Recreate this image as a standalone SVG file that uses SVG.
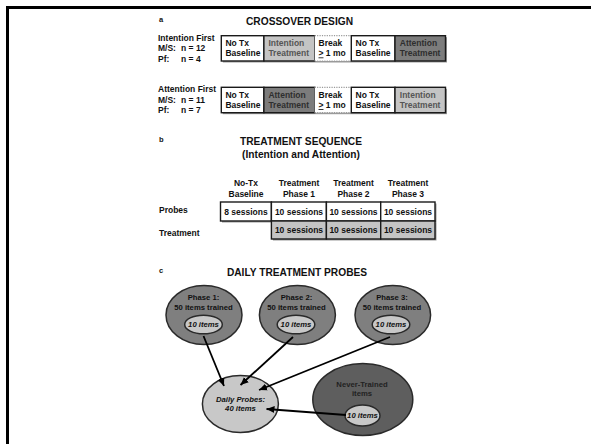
<svg xmlns="http://www.w3.org/2000/svg" width="591" height="444" viewBox="0 0 591 444">
  <style>
    text { font-family: "Liberation Sans", Arial, sans-serif; font-weight: bold; fill: #111; }
    .h { font-size: 10.2px; text-anchor: middle; }
    .tag { font-size: 7.5px; }
    .lbl { font-size: 8.5px; }
    .mid { text-anchor: middle; }
    .sm { font-size: 7.7px; text-anchor: middle; }
    .it { font-style: italic; }
    .box { stroke: #1a1a1a; stroke-width: 1.4; }
    .white { fill: #ffffff; }
    .light { fill: #c4c4c4; }
    .dark { fill: #7c7c7c; }
    .shadow { fill: #9a9a9a; }
    .dotted { fill: none; stroke: #9a9a9a; stroke-width: 1.2; stroke-dasharray: 1.2 1.2; }
    .ell { stroke: #2a2a2a; stroke-width: 1.5; }
    .phase { fill: #7f7f7f; }
    .inner { fill: #c8c8c8; }
    .never { fill: #5e5e5e; }
    .conn { stroke: #000; stroke-width: 1.8; fill: none; marker-end: url(#arrow); }
  </style>
  <defs>
    <marker id="arrow" markerUnits="userSpaceOnUse" markerWidth="9" markerHeight="8" refX="8" refY="4" orient="auto">
      <path d="M0,0.5 L8,4 L0,7.5 Z" fill="#000"/>
    </marker>
  </defs>

  <!-- page frame -->
  <path d="M7.5,444 V7.5 H591" fill="none" stroke="#000" stroke-width="3"/>

  <!-- a: crossover design -->
  <g id="crossover-title">
    <text class="tag" x="159" y="22">a</text>
    <text class="h" x="299.5" y="25">CROSSOVER DESIGN</text>
  </g>

  <g id="intention-first-label">
    <text class="lbl" x="158" y="40.5">Intention First</text>
    <text class="lbl" x="158" y="51">M/S:</text>
    <text class="lbl" x="181" y="51">n = 12</text>
    <text class="lbl" x="158" y="61.5">Pf:</text>
    <text class="lbl" x="181" y="61.5">n = 4</text>
  </g>

  <g id="intention-first-row">
    <rect class="shadow" x="222.8" y="37.2" width="224.2" height="25.3"/>
    <rect class="box white" x="221.3" y="35.7" width="42.6" height="25.3"/>
    <rect class="box light" x="263.9" y="35.7" width="50.8" height="25.3"/>
    <rect class="white" x="314.7" y="35.7" width="36.6" height="25.3"/>
    <path class="dotted" d="M314.7,35.7 H351.3 M314.7,61 H351.3"/>
    <rect class="box white" x="351.3" y="35.7" width="43.7" height="25.3"/>
    <rect class="box dark" x="395" y="35.7" width="50.5" height="25.3"/>
    <text class="lbl" x="225.4" y="46.4">No Tx</text>
    <text class="lbl" x="225.4" y="56.4">Baseline</text>
    <text class="lbl" x="268.4" y="46.4" fill="#555" style="fill:#555">Intention</text>
    <text class="lbl" x="268.4" y="56.4" style="fill:#555">Treatment</text>
    <text class="lbl" x="318.5" y="46.4">Break</text>
    <text class="lbl" x="318.5" y="56.4"><tspan text-decoration="underline">&gt;</tspan> 1 mo</text>
    <text class="lbl" x="355.6" y="46.4">No Tx</text>
    <text class="lbl" x="355.6" y="56.4">Baseline</text>
    <text class="lbl" x="399.8" y="46.4" style="fill:#2e2e2e">Attention</text>
    <text class="lbl" x="399.8" y="56.4" style="fill:#2e2e2e">Treatment</text>
  </g>

  <g id="attention-first-label">
    <text class="lbl" x="158" y="92">Attention First</text>
    <text class="lbl" x="158" y="102.5">M/S:</text>
    <text class="lbl" x="181" y="102.5">n = 11</text>
    <text class="lbl" x="158" y="113">Pf:</text>
    <text class="lbl" x="181" y="113">n = 7</text>
  </g>

  <g id="attention-first-row">
    <rect class="shadow" x="222.8" y="88.8" width="224.2" height="25.4"/>
    <rect class="box white" x="221.3" y="87.3" width="42.6" height="25.4"/>
    <rect class="box dark" x="263.9" y="87.3" width="50.8" height="25.4"/>
    <rect class="white" x="314.7" y="87.3" width="36.6" height="25.4"/>
    <path class="dotted" d="M314.7,87.3 H351.3 M314.7,112.7 H351.3"/>
    <rect class="box white" x="351.3" y="87.3" width="43.7" height="25.4"/>
    <rect class="box light" x="395" y="87.3" width="50.5" height="25.4"/>
    <text class="lbl" x="225.4" y="98">No Tx</text>
    <text class="lbl" x="225.4" y="108">Baseline</text>
    <text class="lbl" x="268.4" y="98" style="fill:#2e2e2e">Attention</text>
    <text class="lbl" x="268.4" y="108" style="fill:#2e2e2e">Treatment</text>
    <text class="lbl" x="318.5" y="98">Break</text>
    <text class="lbl" x="318.5" y="108"><tspan text-decoration="underline">&gt;</tspan> 1 mo</text>
    <text class="lbl" x="355.6" y="98">No Tx</text>
    <text class="lbl" x="355.6" y="108">Baseline</text>
    <text class="lbl" x="399.8" y="98" style="fill:#555">Intention</text>
    <text class="lbl" x="399.8" y="108" style="fill:#555">Treatment</text>
  </g>

  <!-- b: treatment sequence -->
  <g id="sequence-title">
    <text class="tag" x="159" y="141.5">b</text>
    <text class="h" x="301" y="145.3">TREATMENT SEQUENCE</text>
    <text class="h" x="301" y="157.8">(Intention and Attention)</text>
  </g>

  <g id="sequence-headers">
    <text class="lbl mid" x="246" y="186">No-Tx</text>
    <text class="lbl mid" x="246" y="197">Baseline</text>
    <text class="lbl mid" x="299" y="186">Treatment</text>
    <text class="lbl mid" x="299" y="197">Phase 1</text>
    <text class="lbl mid" x="353.5" y="186">Treatment</text>
    <text class="lbl mid" x="353.5" y="197">Phase 2</text>
    <text class="lbl mid" x="408" y="186">Treatment</text>
    <text class="lbl mid" x="408" y="197">Phase 3</text>
  </g>

  <g id="probes-row">
    <text class="lbl" x="159" y="213">Probes</text>
    <rect class="shadow" x="222" y="203.5" width="214.5" height="19"/>
    <rect class="box white" x="220.5" y="202" width="50.9" height="19"/>
    <rect class="box white" x="271.4" y="202" width="55" height="19"/>
    <rect class="box white" x="326.4" y="202" width="54.3" height="19"/>
    <rect class="box white" x="380.7" y="202" width="54.3" height="19"/>
    <text class="lbl mid" x="246" y="215">8 sessions</text>
    <text class="lbl mid" x="299" y="215">10 sessions</text>
    <text class="lbl mid" x="353.5" y="215">10 sessions</text>
    <text class="lbl mid" x="408" y="215">10 sessions</text>
  </g>

  <g id="treatment-row">
    <text class="lbl" x="159" y="236">Treatment</text>
    <rect class="shadow" x="272.9" y="222.5" width="163.6" height="18"/>
    <rect class="box light" x="271.4" y="221" width="55" height="18"/>
    <rect class="box light" x="326.4" y="221" width="54.3" height="18"/>
    <rect class="box light" x="380.7" y="221" width="54.3" height="18"/>
    <text class="lbl mid" x="299" y="233">10 sessions</text>
    <text class="lbl mid" x="353.5" y="233">10 sessions</text>
    <text class="lbl mid" x="408" y="233">10 sessions</text>
  </g>

  <!-- c: daily treatment probes -->
  <g id="probes-title">
    <text class="tag" x="159" y="273">c</text>
    <text class="h" x="297" y="276.3">DAILY TREATMENT PROBES</text>
  </g>

  <g id="phase-1">
    <ellipse class="ell phase" cx="204" cy="315" rx="38" ry="29.5"/>
    <text class="sm" x="203.5" y="300">Phase 1:</text>
    <text class="sm" x="203.5" y="309.5">50 items trained</text>
    <ellipse class="ell inner" cx="203.5" cy="324.5" rx="18.8" ry="9.3"/>
    <text class="sm it" x="203.5" y="327.2">10 items</text>
  </g>

  <g id="phase-2">
    <ellipse class="ell phase" cx="297.4" cy="315" rx="38" ry="29.5"/>
    <text class="sm" x="296.5" y="300">Phase 2:</text>
    <text class="sm" x="296.5" y="309.5">50 items trained</text>
    <ellipse class="ell inner" cx="296" cy="324.5" rx="18.8" ry="9.3"/>
    <text class="sm it" x="296" y="327.2">10 items</text>
  </g>

  <g id="phase-3">
    <ellipse class="ell phase" cx="392.8" cy="315" rx="37.8" ry="29.5"/>
    <text class="sm" x="392" y="300">Phase 3:</text>
    <text class="sm" x="392" y="309.5">50 items trained</text>
    <ellipse class="ell inner" cx="391" cy="324.5" rx="18.8" ry="9.3"/>
    <text class="sm it" x="391" y="327.2">10 items</text>
  </g>

  <g id="daily-probes">
    <ellipse class="ell inner" cx="240.4" cy="404" rx="38" ry="28.5"/>
    <text class="sm it" x="240.5" y="401.5">Daily Probes:</text>
    <text class="sm it" x="240.5" y="411">40 items</text>
  </g>

  <g id="never-trained">
    <ellipse class="ell never" cx="362.8" cy="399.5" rx="50" ry="36"/>
    <text class="sm" x="362" y="386.5" style="fill:#222">Never-Trained</text>
    <text class="sm" x="362" y="396" style="fill:#222">items</text>
    <ellipse class="ell inner" cx="362.5" cy="415.5" rx="17.5" ry="10.5"/>
    <text class="sm it" x="362.5" y="418.2">10 items</text>
  </g>

  <g id="connectors">
    <line class="conn" x1="203.5" y1="336" x2="224" y2="386"/>
    <line class="conn" x1="293" y1="337" x2="240.5" y2="385"/>
    <line class="conn" x1="390" y1="337" x2="259" y2="390"/>
    <line class="conn" x1="346" y1="415" x2="266.5" y2="409"/>
  </g>
</svg>
